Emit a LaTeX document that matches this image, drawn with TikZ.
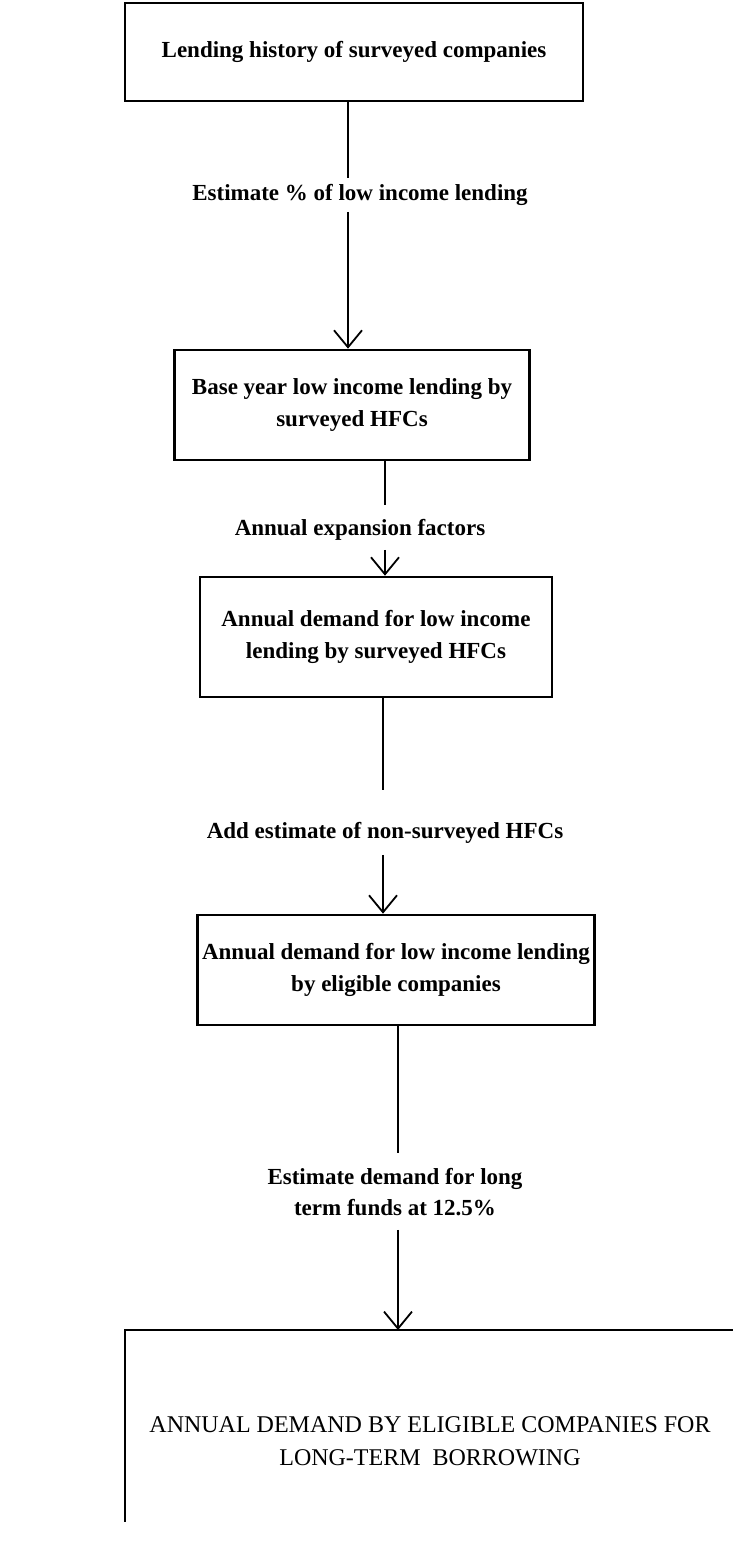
\documentclass[tikz,border=0pt]{standalone}
\usepackage{fontspec}
\setmainfont{Liberation Serif}
\usetikzlibrary{arrows.meta}

\begin{document}
\begin{tikzpicture}[x=1pt,y=-1pt,
  stepbox/.style={draw, line width=2.6pt, align=center, inner sep=0pt, font=\bfseries\fontsize{23}{32}\selectfont},
  steplabel/.style={align=center, inner sep=0pt, font=\bfseries\fontsize{23}{31}\selectfont},
  flow/.style={line width=1.6pt},
  flowarrow/.style={flow, -{Straight Barb[length=17pt,width=28pt,line width=1.8pt]}}]
\useasboundingbox (0,0) rectangle (732,1557);

% boxes
\node [stepbox, minimum width=458pt, minimum height=98pt] (hist) at (354,52) {Lending history of surveyed companies};
\node [stepbox, minimum width=355pt, minimum height=110pt] (base) at (352,405) {Base year low income lending by\\surveyed HFCs};
\node [stepbox, minimum width=352pt, minimum height=120pt] (surv) at (376,637) {Annual demand for low income\\lending by surveyed HFCs};
\node [stepbox, minimum width=397pt, minimum height=110pt] (elig) at (396,970) {Annual demand for low income lending\\by eligible companies};
\draw [line width=2.6pt] (760,1330) -- (125,1330) -- (125,1522);
\coordinate (fintop) at (398,1330);
\node [align=center, font=\fontsize{24}{33}\selectfont] (final) at (430,1441) {ANNUAL DEMAND BY ELIGIBLE COMPANIES FOR\\LONG-TERM~~BORROWING};

% labels
\node [steplabel] (lab1) at (360,195) {Estimate \% of low income lending};
\node [steplabel] (lab2) at (360,530) {Annual expansion factors};
\node [steplabel] (lab3) at (385,833) {Add estimate of non-surveyed HFCs};
\node [steplabel] (lab4) at (395,1192) {Estimate demand for long\\term funds at 12.5\%};

% connectors
\coordinate (x1) at (348,0);
\coordinate (x2) at (385,0);
\coordinate (x3) at (383,0);
\coordinate (x4) at (398,0);
\draw [flow, shorten >=6pt] (hist.south -| x1) -- (lab1.north -| x1);
\draw [flowarrow, shorten <=6pt] (lab1.south -| x1) -- (base.north -| x1);
\draw [flow, shorten >=14pt] (base.south -| x2) -- (lab2.north -| x2);
\draw [flowarrow, shorten <=9pt] (lab2.south -| x2) -- (surv.north -| x2);
\draw [flow, shorten >=32pt] (surv.south -| x3) -- (lab3.north -| x3);
\draw [flowarrow, shorten <=11pt] (lab3.south -| x3) -- (elig.north -| x3);
\draw [flow, shorten >=15pt] (elig.south -| x4) -- (lab4.north -| x4);
\draw [flowarrow, shorten <=14pt] (lab4.south -| x4) -- (fintop);

\end{tikzpicture}
\end{document}
